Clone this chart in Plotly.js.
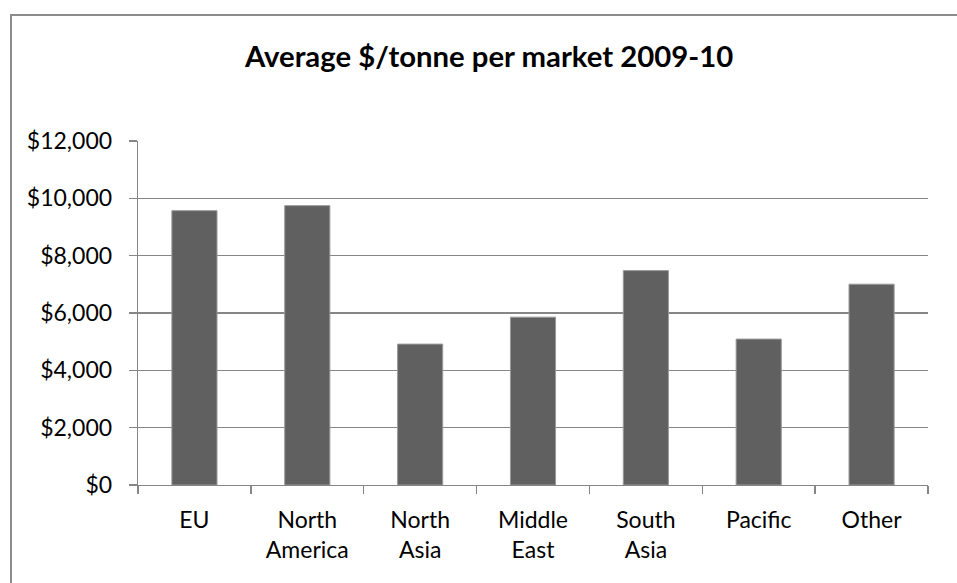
<!DOCTYPE html>
<html>
<head>
<meta charset="utf-8">
<script src="https://cdn.plot.ly/plotly-3.0.1.min.js"></script>
<style>
  html, body { margin: 0; padding: 0; background: #ffffff; overflow: hidden; }
  #wrap { position: relative; width: 957px; height: 583px; overflow: hidden; }
  #chart { width: 957px; height: 583px; }
  /* chart-area frame: top and left edges run off the page */
  #frame {
    position: absolute; left: 10px; top: 14px;
    width: 1200px; height: 1200px;
    border-top: 2px solid #8c8c8c; border-left: 2px solid #8c8c8c;
    pointer-events: none;
  }
</style>
</head>
<body>
<div id="wrap">
  <div id="chart"></div>
  <div id="frame"></div>
</div>
<script>
// Markets and their average price per tonne, 2009-10
const markets = ['EU', 'North<br>America', 'North<br>Asia', 'Middle<br>East', 'South<br>Asia', 'Pacific', 'Other'];
const pricePerTonne = [9570, 9745, 4915, 5855, 7480, 5090, 7005];

const gridGray = '#868686';
const fontFamily = 'Lato, "Open Sans", sans-serif';

const trace = {
  type: 'bar',
  x: markets,
  y: pricePerTonne,
  marker: { color: '#606060', line: { color: '#9a9a9a', width: 1 } },
  hoverinfo: 'x+y'
};

const layout = {
  width: 957,
  height: 583,
  margin: { l: 138, r: 29, t: 141, b: 98, pad: 0 },
  paper_bgcolor: '#ffffff',
  plot_bgcolor: '#ffffff',
  font: { family: fontFamily, size: 23, color: '#000000' },
  title: {
    text: '<b>Average $/tonne per market 2009-10</b>',
    font: { family: fontFamily, size: 29.3, color: '#000000' },
    x: 0.511, xanchor: 'center',
    y: 0.902, yanchor: 'middle'
  },
  bargap: 0.6,
  showlegend: false,
  xaxis: {
    type: 'category',
    showline: true, linecolor: gridGray, linewidth: 1.3,
    ticks: 'outside', tickson: 'boundaries', ticklen: 8, tickcolor: gridGray, tickwidth: 1.3,
    ticklabelstandoff: 14,
    showgrid: false,
    tickfont: { family: fontFamily, size: 23, color: '#000000' },
    automargin: false
  },
  yaxis: {
    range: [0, 12000], dtick: 2000, tick0: 0,
    tickprefix: '$', tickformat: ',d',
    showline: true, linecolor: gridGray, linewidth: 1.3,
    ticks: 'outside', ticklen: 8, tickcolor: gridGray, tickwidth: 1.3,
    ticklabelstandoff: 12,
    showgrid: true, gridcolor: gridGray, gridwidth: 1.3,
    zeroline: false,
    tickfont: { family: fontFamily, size: 23, color: '#000000' },
    automargin: false
  }
};

Plotly.newPlot('chart', [trace], layout, { displayModeBar: false, staticPlot: true });
</script>
</body>
</html>
